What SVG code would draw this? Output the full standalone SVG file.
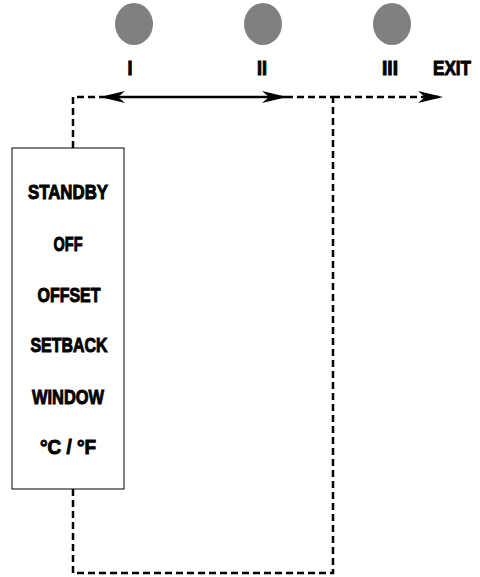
<svg xmlns="http://www.w3.org/2000/svg" width="480" height="577" viewBox="0 0 480 577">
<style>
.lbl{font-family:"Liberation Sans Narrow","Liberation Sans",Arial,sans-serif;font-weight:bold;font-size:21px;fill:#000;stroke:#000;stroke-width:1;text-anchor:middle}
.dash{fill:none;stroke:#000;stroke-width:2.5;stroke-dasharray:7,4}
.solid{fill:none;stroke:#000;stroke-width:2.5}
.dot{fill:#808080}
</style>
<defs>
<marker id="ah" viewBox="0 0 25 12" refX="24" refY="6" markerWidth="25" markerHeight="12" markerUnits="userSpaceOnUse" orient="auto-start-reverse">
<path d="M0,0 L25,6 L0,12 L7,6 Z" fill="#000"/>
</marker>
</defs>
<rect width="480" height="577" fill="#fff"/>
<g id="pos1"><ellipse class="dot" cx="134" cy="24" rx="19" ry="21"/><text class="lbl" x="130" y="75" textLength="5" lengthAdjust="spacingAndGlyphs">I</text></g>
<g id="pos2"><ellipse class="dot" cx="263" cy="24" rx="19" ry="21"/><text class="lbl" x="262" y="75" textLength="10" lengthAdjust="spacingAndGlyphs">II</text></g>
<g id="pos3"><ellipse class="dot" cx="392" cy="24" rx="19" ry="21"/><text class="lbl" x="390" y="75" textLength="16" lengthAdjust="spacingAndGlyphs">III</text></g>
<g id="exit"><text class="lbl" x="452" y="75" textLength="38" lengthAdjust="spacingAndGlyphs">EXIT</text></g>
<g id="menu">
<rect x="12" y="148" width="112" height="341" fill="#fff" stroke="#000" stroke-width="1"/>
<text class="lbl" x="68" y="199" textLength="80" lengthAdjust="spacingAndGlyphs">STANDBY</text>
<text class="lbl" x="68" y="251" textLength="29" lengthAdjust="spacingAndGlyphs">OFF</text>
<text class="lbl" x="69" y="302" textLength="63" lengthAdjust="spacingAndGlyphs">OFFSET</text>
<text class="lbl" x="69" y="352" textLength="77" lengthAdjust="spacingAndGlyphs">SETBACK</text>
<text class="lbl" x="68" y="404" textLength="72" lengthAdjust="spacingAndGlyphs">WINDOW</text>
<text class="lbl" x="68" y="454" textLength="56" lengthAdjust="spacingAndGlyphs">°C / °F</text>
</g>
<g id="connectors">
<path class="dash" d="M73,148 V97 H101"/>
<line class="solid" x1="101" y1="97" x2="286" y2="97" marker-start="url(#ah)" marker-end="url(#ah)"/>
<path class="dash" d="M286,97 H333"/>
<path class="dash" d="M333,97 H442" marker-end="url(#ah)"/>
<path class="dash" d="M73,489 V573 H333 V97"/>
</g>
</svg>
